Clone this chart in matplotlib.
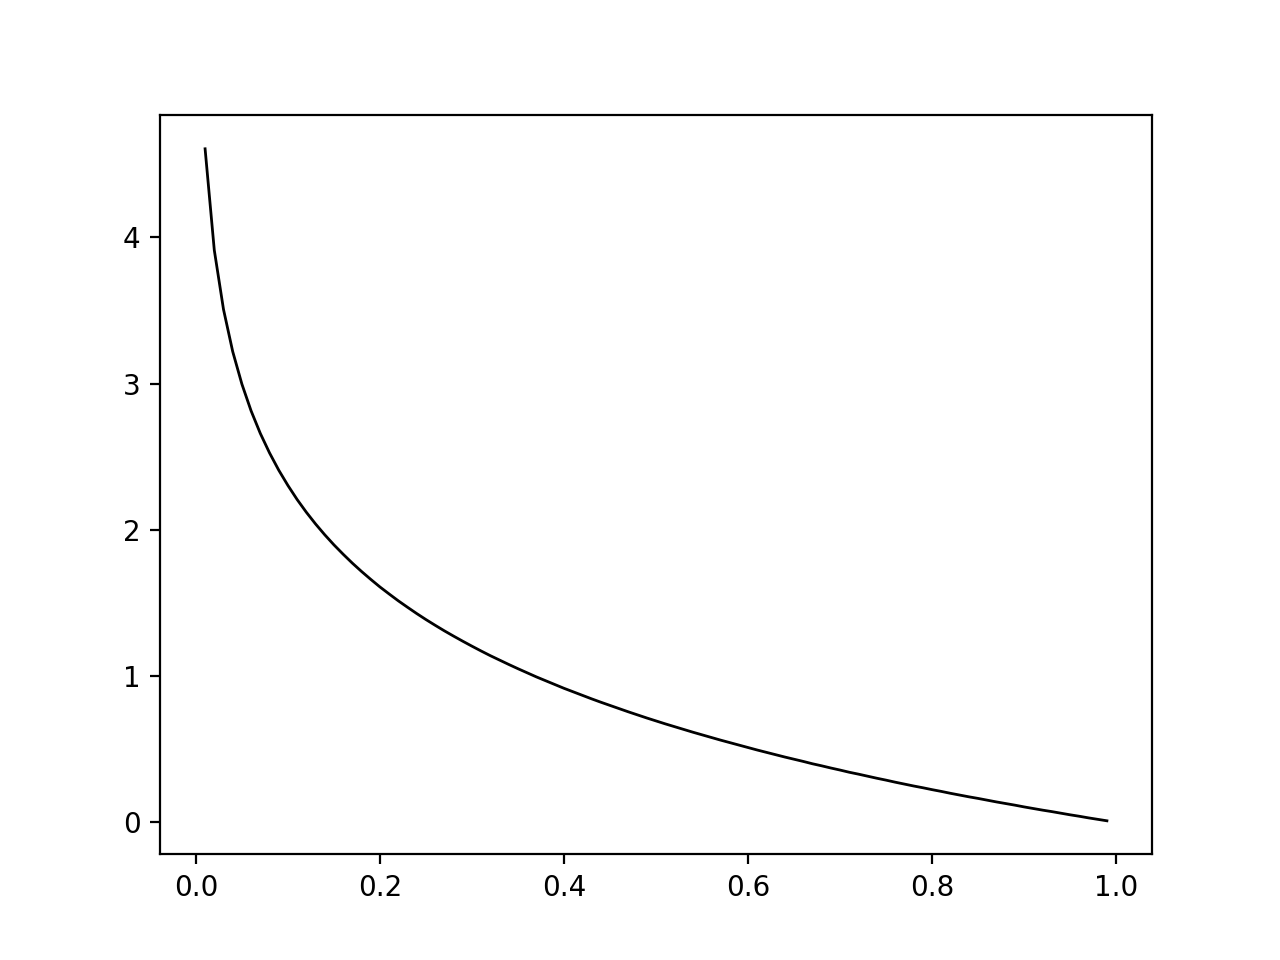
import matplotlib
matplotlib.use("Agg")
import matplotlib.pyplot as plt

x_values = [
    0.01, 0.02, 0.03, 0.04, 0.05, 0.06, 0.07, 0.08, 0.09, 0.10,
    0.11, 0.12, 0.13, 0.14, 0.15, 0.16, 0.17, 0.18, 0.19, 0.20,
    0.21, 0.22, 0.23, 0.24, 0.25, 0.26, 0.27, 0.28, 0.29, 0.30,
    0.31, 0.32, 0.33, 0.34, 0.35, 0.36, 0.37, 0.38, 0.39, 0.40,
    0.41, 0.42, 0.43, 0.44, 0.45, 0.46, 0.47, 0.48, 0.49, 0.50,
    0.51, 0.52, 0.53, 0.54, 0.55, 0.56, 0.57, 0.58, 0.59, 0.60,
    0.61, 0.62, 0.63, 0.64, 0.65, 0.66, 0.67, 0.68, 0.69, 0.70,
    0.71, 0.72, 0.73, 0.74, 0.75, 0.76, 0.77, 0.78, 0.79, 0.80,
    0.81, 0.82, 0.83, 0.84, 0.85, 0.86, 0.87, 0.88, 0.89, 0.90,
    0.91, 0.92, 0.93, 0.94, 0.95, 0.96, 0.97, 0.98, 0.99,
]

y_values = [
    4.605, 3.912, 3.507, 3.219, 2.996, 2.813, 2.659, 2.526, 2.408, 2.303,
    2.207, 2.120, 2.040, 1.966, 1.897, 1.833, 1.772, 1.715, 1.661, 1.609,
    1.561, 1.514, 1.470, 1.427, 1.386, 1.347, 1.309, 1.273, 1.238, 1.204,
    1.171, 1.139, 1.109, 1.079, 1.050, 1.022, 0.994, 0.968, 0.942, 0.916,
    0.892, 0.868, 0.844, 0.821, 0.799, 0.777, 0.755, 0.734, 0.713, 0.693,
    0.673, 0.654, 0.635, 0.616, 0.598, 0.580, 0.562, 0.545, 0.528, 0.511,
    0.494, 0.478, 0.462, 0.446, 0.431, 0.416, 0.400, 0.386, 0.371, 0.357,
    0.342, 0.329, 0.315, 0.301, 0.288, 0.274, 0.261, 0.248, 0.236, 0.223,
    0.211, 0.198, 0.186, 0.174, 0.163, 0.151, 0.139, 0.128, 0.117, 0.105,
    0.094, 0.083, 0.073, 0.062, 0.051, 0.041, 0.030, 0.020, 0.010,
]

fig, ax = plt.subplots(figsize=(6.4, 4.8), dpi=200)
ax.plot(x_values, y_values, color="black", linewidth=1.0)
fig.savefig("out.png", dpi=200)
